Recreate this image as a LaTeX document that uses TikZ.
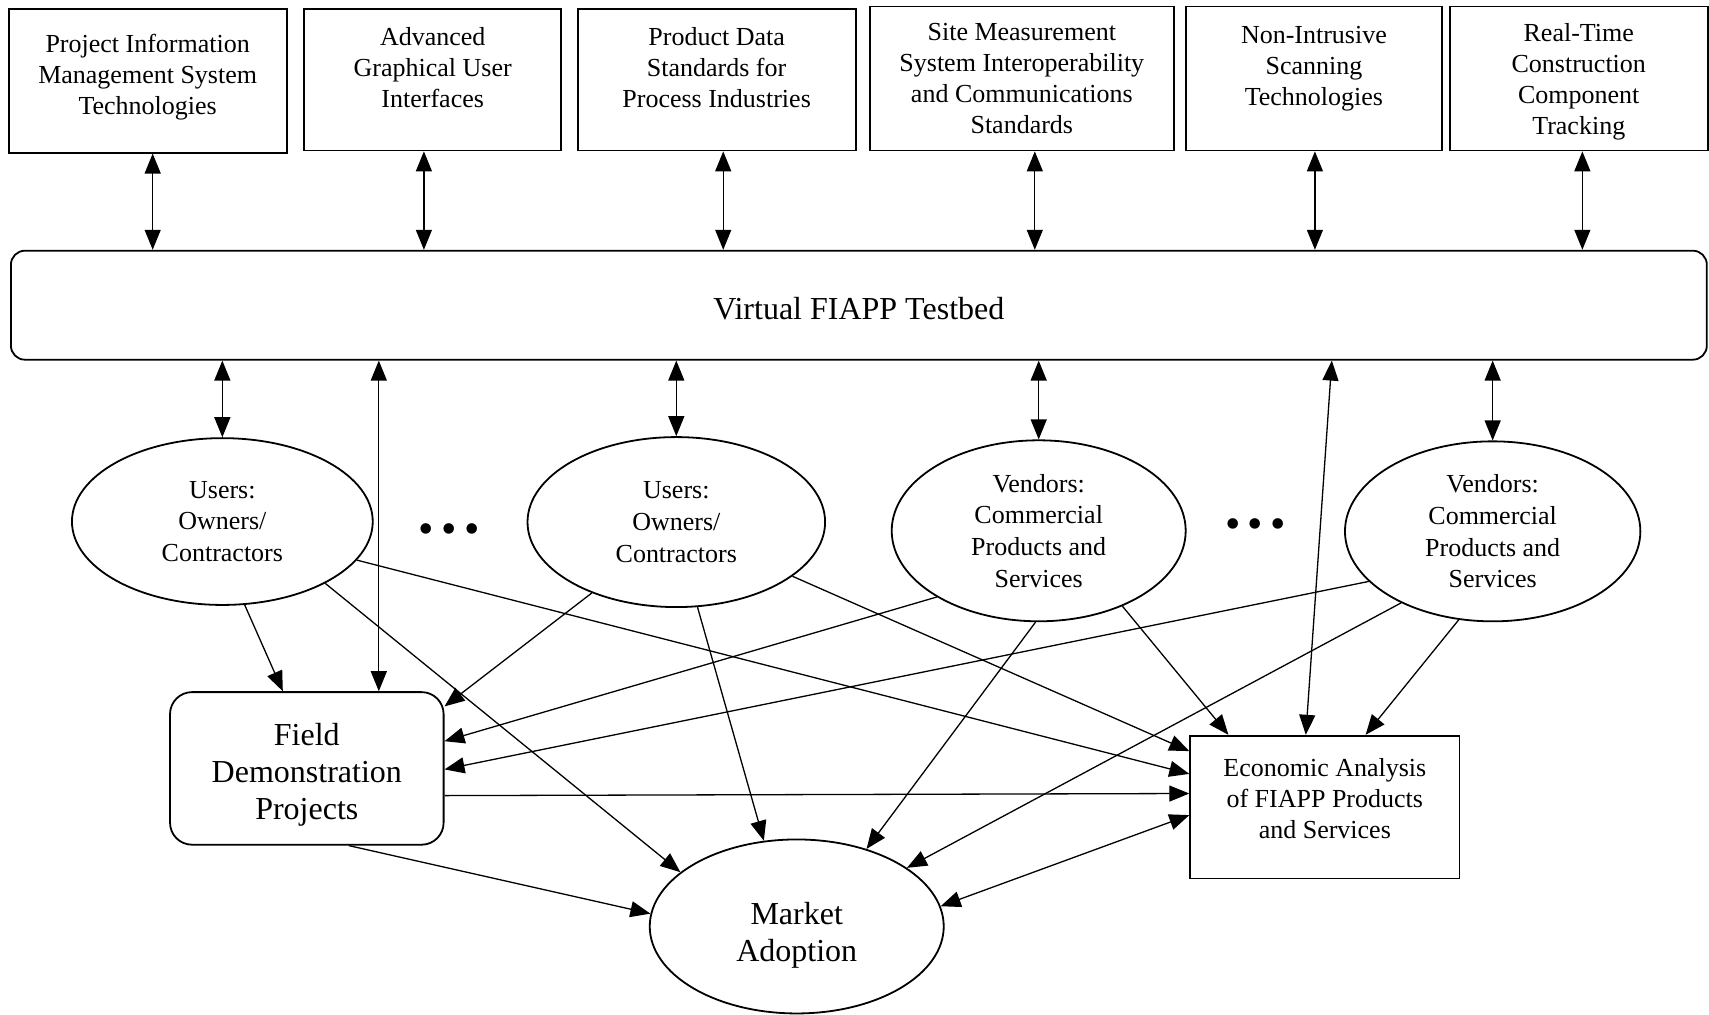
\documentclass[tikz,border=0pt]{standalone}
\usepackage{fontspec}
\setmainfont{Liberation Serif}
\usetikzlibrary{shapes.geometric}
\usetikzlibrary{arrows.meta}

\begin{document}
\begin{tikzpicture}[x=0.545pt,y=-0.545pt,
  box/.style={draw, line width=0.9pt, align=center, inner sep=0pt, font=\fontsize{13}{15.5}\selectfont},
  oval/.style={draw, ellipse, line width=0.9pt, align=center, inner sep=0pt, font=\fontsize{13}{15.8}\selectfont},
  big/.style={font=\fontsize{16}{18.5}\selectfont},
  arr/.style={-{Triangle[length=10pt,width=8pt]}, line width=0.65pt},
  dbl/.style={{Triangle[length=10pt,width=8pt]}-{Triangle[length=10pt,width=8pt]}, line width=0.65pt}]
\useasboundingbox (0,0) rectangle (1568,931);

% technology areas
\node [box, minimum width=139pt, minimum height=72pt] (pims) at (135.5,74) {Project Information\\Management System\\Technologies\rule[-6pt]{0pt}{0pt}};
\node [box, minimum width=128.6pt, minimum height=70.9pt] (gui) at (397,73) {\rule{0pt}{12pt}Advanced\\Graphical User\\Interfaces\\\mbox{}};
\node [box, minimum width=139pt, minimum height=70.9pt] (pds) at (657.5,73) {\rule{0pt}{12pt}Product Data\\Standards for\\Process Industries\\\mbox{}};
\node [box, minimum width=152pt, minimum height=72pt] (sms) at (937.5,72) {Site Measurement\\System Interoperability\\and Communications\\Standards};
\node [box, minimum width=128pt, minimum height=72pt] (nis) at (1205.5,72) {\rule{0pt}{12pt}Non-Intrusive\\Scanning\\Technologies\\\mbox{}};
\node [box, minimum width=129pt, minimum height=72pt] (rtc) at (1448.5,72) {\rule{0pt}{12pt}Real-Time\\Construction\\Component\\Tracking};

\node [box, big, rounded corners=7pt, minimum width=848pt, minimum height=54.5pt] (testbed) at (788,280) {\rule{0pt}{15pt}Virtual FIAPP Testbed};

\draw [dbl] ([xshift=2.5pt]pims.south) -- ([xshift=2.5pt]pims.south |- testbed.north);
\draw [dbl] ([xshift=-4.4pt]gui.south) -- ([xshift=-4.4pt]gui.south |- testbed.north);
\draw [dbl] ([xshift=3.3pt]pds.south) -- ([xshift=3.3pt]pds.south |- testbed.north);
\draw [dbl] ([xshift=6.5pt]sms.south) -- ([xshift=6.5pt]sms.south |- testbed.north);
\draw [dbl] ([xshift=0.5pt]nis.south) -- ([xshift=0.5pt]nis.south |- testbed.north);
\draw [dbl] ([xshift=1.8pt]rtc.south) -- ([xshift=1.8pt]rtc.south |- testbed.north);

% users and vendors
\node [oval, minimum width=150.4pt, minimum height=83.4pt] (usr1) at (204,478.5) {Users:\\Owners/\\Contractors};
\node [oval, minimum width=148.8pt, minimum height=85pt] (usr2) at (620.5,479) {Users:\\Owners/\\Contractors};
\node [oval, minimum width=147pt, minimum height=90.5pt] (ven1) at (953,487) {Vendors:\\Commercial\\Products and\\Services};
\node [oval, minimum width=147.7pt, minimum height=90pt] (ven2) at (1369.5,487.5) {Vendors:\\Commercial\\Products and\\Services};
\node [font=\fontsize{22}{22}\selectfont] (dots1) at (412,490) {\textbullet\,\textbullet\,\textbullet};
\node [font=\fontsize{22}{22}\selectfont] (dots2) at (1152,485) {\textbullet\,\textbullet\,\textbullet};

\node [box, big, rounded corners=11pt, minimum width=136.8pt, minimum height=76.3pt] (field) at (281.5,705) {\rule{0pt}{17.5pt}Field\\Demonstration\\Projects};
\node [box, minimum width=134.6pt, minimum height=71.4pt] (econ) at (1215.5,740.5) {\rule{0pt}{16.3pt}Economic Analysis\\of FIAPP Products\\and Services\\\mbox{}};
\node [oval, big, minimum width=147pt, minimum height=87pt] (market) at (731,850) {\rule{0pt}{20.4pt}Market\\Adoption};

\draw [dbl] (usr1.north |- testbed.south) -- (usr1.north);
\draw [dbl] (usr2.north |- testbed.south) -- (usr2.north);
\draw [dbl] (ven1.north |- testbed.south) -- (ven1.north);
\draw [dbl] (ven2.north |- testbed.south) -- (ven2.north);
\draw [dbl] ([xshift=36pt]field.north |- testbed.south) -- ([xshift=36pt]field.north);
\draw [dbl] ([xshift=236.5pt]testbed.south) -- ([xshift=-9.5pt]econ.north);

% flows
\draw [arr] (usr1.-75) -- ([xshift=-12pt]field.north);
\draw [arr] (usr1.-31) -- (market.155);
\draw [arr] (usr1.-16.5) -- ([yshift=16.6pt]econ.west);
\draw [arr] (usr2.-140) -- ([yshift=31pt]field.east);
\draw [arr] (usr2.-76) -- (market.111);
\draw [arr] (usr2.-25) -- ([yshift=28pt]econ.west);
\draw [arr] (ven1.-147) -- ([yshift=13.6pt]field.east);
\draw [arr] (ven1.-92) -- (market.48);
\draw [arr] (ven1.-42) -- ([xshift=-48.2pt]econ.north);
\draw [arr] (ven2.-158.6) -- ([yshift=-0.5pt]field.east);
\draw [arr] (ven2.-142) -- (market.28);
\draw [arr] (ven2.-111) -- ([xshift=20.4pt]econ.north);
\draw [arr] ([yshift=-13.6pt]field.east) -- ([yshift=6.8pt]econ.west);
\draw [arr] ([xshift=21pt]field.south) -- (market.175);
\draw [dbl] (market.8.6) -- ([yshift=-4pt]econ.west);

\end{tikzpicture}
\end{document}
